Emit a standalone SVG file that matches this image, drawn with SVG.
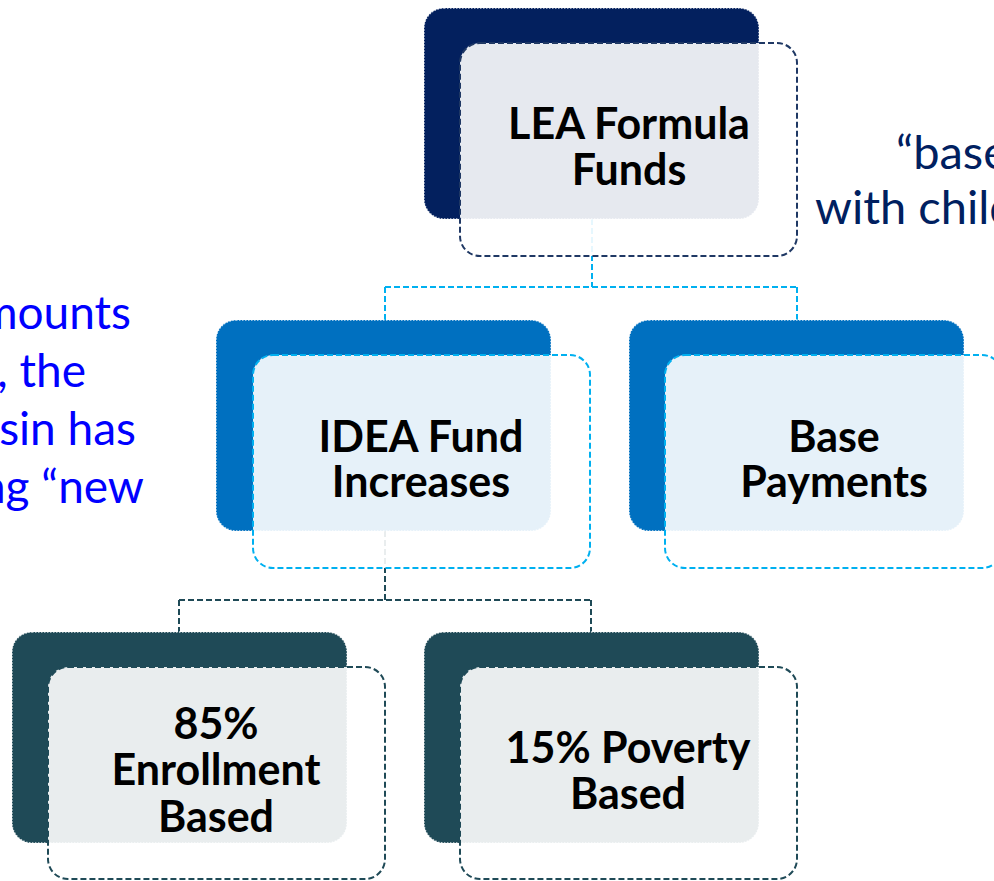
<svg xmlns="http://www.w3.org/2000/svg" width="994" height="881" viewBox="0 0 994 881">
<style>
.bg{font-family:Lato,"Liberation Sans",sans-serif}
.lbl{font-family:Lato,"Liberation Sans",sans-serif;font-weight:bold;font-size:43px;fill:#000;text-anchor:middle}
.back{stroke:#ffffff;stroke-width:1.5;stroke-dasharray:1.5 1.5;stroke-opacity:0.8}
.front{fill:#ffffff;fill-opacity:0.9;stroke-width:2;stroke-dasharray:6 3}
.con{fill:none;stroke-width:2;stroke-dasharray:6 3}
</style>
<rect width="994" height="881" fill="#ffffff"/>
<g id="side-text">
<g class="bg" fill="#0000FF" text-anchor="end" font-size="46">
<text x="131" y="329">mounts</text>
<text x="86" y="387">, the</text>
<text x="136" y="445">sin has</text>
<text x="144" y="503">ng “new</text>
</g>
<g class="bg" fill="#002060" font-size="47">
<text x="896" y="169">“base</text>
<text x="815" y="224">with child</text>
</g>
</g>
<g id="connectors">
<path class="con" stroke="#00B0F0" d="M592 219 V287 M385 287 H797 M385 287 V320 M797 287 V320"/>
<path class="con" stroke="#1F4A57" d="M385 531 V600 M179 600 H591 M179 600 V632 M591 600 V632"/>
</g>
<g id="lea">
<rect class="back" x="424" y="8" width="335" height="211" rx="20" fill="#03205E"/>
<rect class="front" x="460" y="43" width="337" height="213" rx="20" stroke="#1F3864"/>
<text class="lbl" x="629" y="139">LEA Formula</text>
<text class="lbl" x="629" y="185">Funds</text>
</g>
<g id="idea">
<rect class="back" x="216" y="320" width="335" height="211" rx="20" fill="#0070C0"/>
<rect class="front" x="253" y="355" width="337" height="213" rx="20" stroke="#00B0F0"/>
<text class="lbl" x="421" y="452">IDEA Fund</text>
<text class="lbl" x="421" y="497">Increases</text>
</g>
<g id="base">
<rect class="back" x="629" y="320" width="335" height="211" rx="20" fill="#0070C0"/>
<rect class="front" x="665" y="355" width="337" height="213" rx="20" stroke="#00B0F0"/>
<text class="lbl" x="834" y="452">Base</text>
<text class="lbl" x="834" y="497">Payments</text>
</g>
<g id="enrollment">
<rect class="back" x="12" y="632" width="335" height="211" rx="20" fill="#1F4A57"/>
<rect class="front" x="48" y="667" width="337" height="212" rx="20" stroke="#1F4A57"/>
<text class="lbl" x="216" y="739">85%</text>
<text class="lbl" x="216" y="785">Enrollment</text>
<text class="lbl" x="216" y="832">Based</text>
</g>
<g id="poverty">
<rect class="back" x="424" y="632" width="335" height="211" rx="20" fill="#1F4A57"/>
<rect class="front" x="460" y="667" width="337" height="212" rx="20" stroke="#1F4A57"/>
<text class="lbl" x="628" y="763">15% Poverty</text>
<text class="lbl" x="628" y="809">Based</text>
</g>
</svg>
